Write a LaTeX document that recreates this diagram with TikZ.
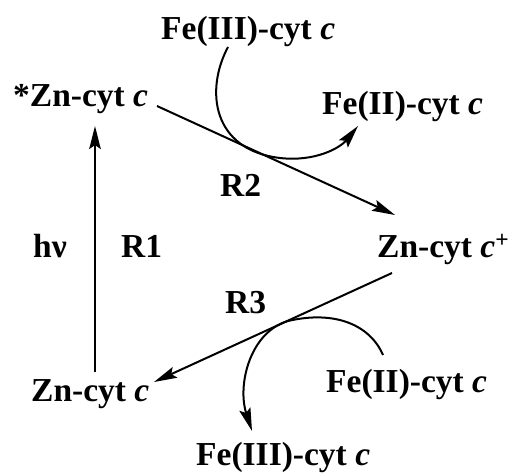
\documentclass[tikz,border=0pt]{standalone}
\usepackage{fontspec}
\setmainfont{Liberation Serif}
\usetikzlibrary{arrows.meta}
\begin{document}
\begin{tikzpicture}[x=1pt,y=-1pt,
  lbl/.style={font=\fontsize{33.5}{36}\selectfont\bfseries, inner sep=0pt, anchor=base west},
  conn/.style={line width=2pt, line cap=butt},
  tip/.style={-{Stealth[length=23pt,width=11.5pt,inset=4pt]}}]
\useasboundingbox (0,0) rectangle (516,473);
\fill[white] (0,0) rectangle (516,473);
% labels
\node[lbl] (fe3top) at (161,40) {Fe(III)-cyt \textit{c}};
\node[lbl] (znstar) at (13,107) {*Zn-cyt \textit{c}};
\node[lbl] (fe2up) at (322,115) {Fe(II)-cyt \textit{c}};
\node[lbl] (r2) at (220,196) {R2};
\node[lbl] (hv) at (33,257) {hν};
\node[lbl] (r1) at (121,257) {R1};
\node[lbl] (znplus) at (377,257) {Zn-cyt \textit{c}\textsuperscript{+}};
\node[lbl] (r3) at (225,313) {R3};
\node[lbl] (znlow) at (31,401) {Zn-cyt \textit{c}};
\node[lbl] (fe2low) at (326,392) {Fe(II)-cyt \textit{c}};
\node[lbl] (fe3bot) at (196,465) {Fe(III)-cyt \textit{c}};
% connector end points
\coordinate (r1s) at (95,372);
\coordinate (r1e) at (95,126);
\coordinate (r2s) at (157,106);
\coordinate (r2e) at (395,215);
\coordinate (r3s) at (392,273);
\coordinate (r3e) at (154,382);
\coordinate (c1s) at (228,47);
\coordinate (c1m) at (280,158);
\coordinate (c1e) at (358,126);
\coordinate (c2s) at (383,355);
\coordinate (c2m) at (288,321);
\coordinate (c2e) at (252,431);
% arrows
\draw[conn,tip] (r1s) -- (r1e);
\draw[conn,tip] (r2s) -- (r2e);
\draw[conn,tip] (r3s) -- (r3e);
\draw[conn,tip] (c1s) .. controls (205,90) and (212,150) .. (c1m)
  .. controls (315,162) and (340,148) .. (c1e);
\draw[conn,tip] (c2s) .. controls (370,325) and (335,310) .. (c2m)
  .. controls (250,332) and (237,385) .. (c2e);
\end{tikzpicture}
\end{document}
